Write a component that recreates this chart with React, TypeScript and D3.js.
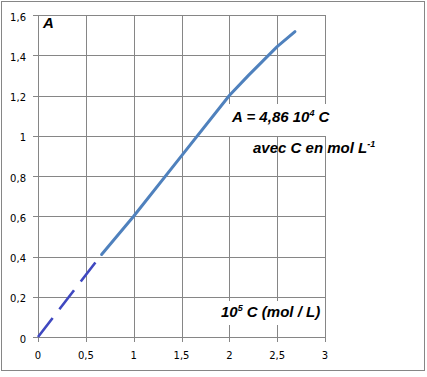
import React from "react";
import * as d3 from "d3";

const xTicks = [0, 0.5, 1, 1.5, 2, 2.5, 3];
const yTicks = [0, 0.2, 0.4, 0.6, 0.8, 1, 1.2, 1.4, 1.6];
const dashedSeries: [number, number][] = [
  [0, 0],
  [0.665, 0.41],
];
const solidSeries: [number, number][] = [
  [0.665, 0.41],
  [1.0, 0.6],
  [1.5, 0.9],
  [2.0, 1.2],
  [2.2, 1.3],
  [2.5, 1.443],
  [2.686, 1.517],
];

const fmt = (v: number) => String(v).replace(".", ",");

export default function App() {
  const W = 427;
  const H = 377;
  const x = d3.scaleLinear().domain([0, 3]).range([38, 325]);
  const y = d3.scaleLinear().domain([0, 1.6]).range([337, 15]);
  const line = d3
    .line<[number, number]>()
    .x((d) => x(d[0]))
    .y((d) => y(d[1]));
  const font = "'DejaVu Sans', Verdana, sans-serif";
  const bold = "'Liberation Sans', Arial, sans-serif";
  const grid = "#868686";
  return (
    <svg
      width={W}
      height={H}
      style={{ position: "absolute", left: 0, top: 0, background: "#fff" }}
    >
      <rect x={1.5} y={1.5} width={423} height={369} fill="#fff" stroke={grid} strokeWidth={1} />
      {yTicks.map((t) => (
        <g key={"y" + t}>
          <line x1={33} x2={x(3)} y1={Math.round(y(t)) + 0.5} y2={Math.round(y(t)) + 0.5} stroke={grid} />
          <text x={26} y={y(t) + 5.7} textAnchor="end" fontFamily={font} fontSize={10} fill="#000">
            {fmt(t)}
          </text>
        </g>
      ))}
      {xTicks.map((t) => (
        <g key={"x" + t}>
          <line x1={Math.round(x(t)) + 0.5} x2={Math.round(x(t)) + 0.5} y1={y(1.6)} y2={342} stroke={grid} />
          <text x={x(t)} y={359} textAnchor="middle" fontFamily={font} fontSize={10} fill="#000">
            {fmt(t)}
          </text>
        </g>
      ))}
      <text x={43} y={28.3} fontFamily={bold} fontSize={15} fontWeight="bold" fontStyle="italic">
        A
      </text>
      <rect x={222} y={104} width={124} height={32} fill="#fff" />
      <text x={232} y={122.3} fontFamily={bold} fontSize={15} fontWeight="bold" fontStyle="italic">
        A = 4,86 10
        <tspan dy={-6} fontSize={9}>4</tspan>
        <tspan dy={6}> C</tspan>
      </text>
      <text x={253} y={153.3} fontFamily={bold} fontSize={15} fontWeight="bold" fontStyle="italic">
        avec C en mol L
        <tspan dy={-6} fontSize={9}>-1</tspan>
      </text>
      <rect x={215} y={301} width={108} height={24} fill="#fff" />
      <text x={221} y={316.7} fontFamily={bold} fontSize={15} fontWeight="bold" fontStyle="italic">
        10
        <tspan dy={-6} fontSize={9}>5</tspan>
        <tspan dy={6}> C (mol / L)</tspan>
      </text>
      <path
        d={line(solidSeries) || ""}
        fill="none"
        stroke="#4F81BD"
        strokeWidth={3}
        strokeLinejoin="round"
        strokeLinecap="round"
      />
      <path
        d={line(dashedSeries) || ""}
        fill="none"
        stroke="#3F48C0"
        strokeWidth={2.6}
        strokeDasharray="24 11"
      />
    </svg>
  );
}
